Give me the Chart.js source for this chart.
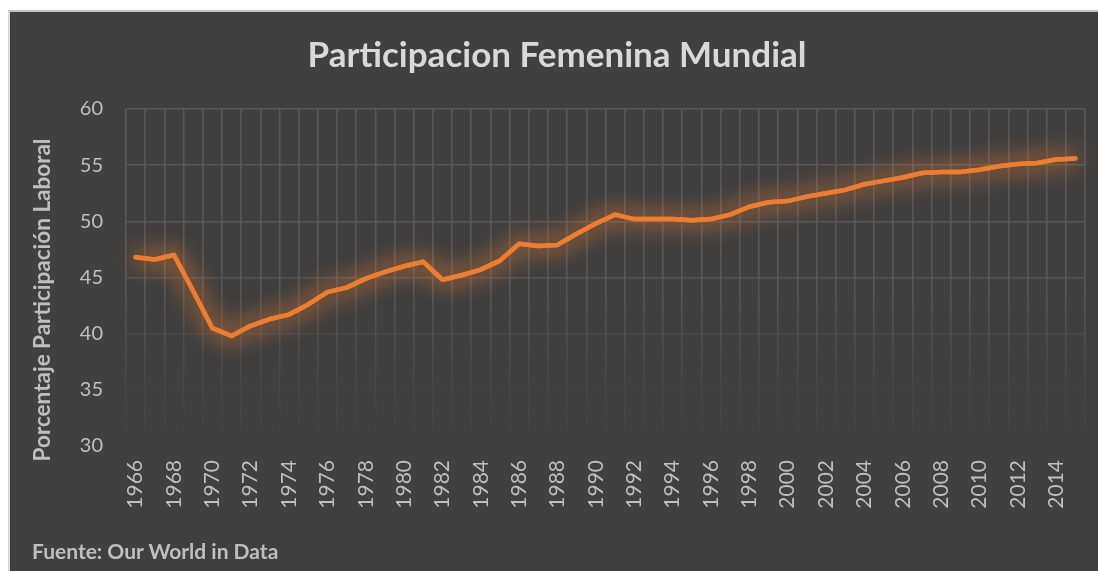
<!DOCTYPE html>
<html>
<head>
<meta charset="utf-8">
<script src="https://cdn.jsdelivr.net/npm/chart.js@4/dist/chart.umd.min.js"></script>
<style>
  html, body { margin: 0; padding: 0; background: #ffffff; width: 1098px; height: 571px; overflow: hidden; }
  #panel { position: absolute; left: 8px; top: 10px; width: 1088px; height: 559px;
           background: #404040; border-left: 2px solid #d9d9d9; border-top: 2px solid #c4c4c4; }
  #c { position: absolute; left: 0; top: 0; }
  #footer { position: absolute; left: 22px; top: 527px; font-family: Lato, "Open Sans", sans-serif;
            font-weight: bold; font-size: 21px; color: #bfbfbf; line-height: 24px; }
</style>
</head>
<body>
<div id="panel">
  <canvas id="c" width="1088" height="559"></canvas>
  <div id="footer">Fuente: Our World in Data</div>
</div>
<script>
const years = [
  "1966","1967","1968","1969","1970","1971","1972","1973","1974","1975",
  "1976","1977","1978","1979","1980","1981","1982","1983","1984","1985",
  "1986","1987","1988","1989","1990","1991","1992","1993","1994","1995",
  "1996","1997","1998","1999","2000","2001","2002","2003","2004","2005",
  "2006","2007","2008","2009","2010","2011","2012","2013","2014","2015"
];
const participation = [
  46.8, 46.6, 47.0, 43.8, 40.5, 39.8, 40.7, 41.3, 41.7, 42.6,
  43.7, 44.1, 44.9, 45.5, 46.0, 46.4, 44.8, 45.2, 45.7, 46.5,
  48.0, 47.8, 47.9, 48.9, 49.8, 50.6, 50.2, 50.2, 50.2, 50.1,
  50.2, 50.6, 51.3, 51.7, 51.8, 52.2, 52.5, 52.8, 53.3, 53.6,
  53.9, 54.3, 54.4, 54.4, 54.6, 54.9, 55.1, 55.2, 55.5, 55.6
];
const yTicks = [30, 35, 40, 45, 50, 55, 60];
const titleText = "Participacion Femenina Mundial";
const yTitleText = "Porcentaje Participación Laboral";

const FONT = "Lato, 'Open Sans', sans-serif";
const GRID = "89,89,89";

function xGridColor(ctx) {
  const chart = ctx.chart;
  const a = chart.chartArea;
  if (!a) return "rgba(" + GRID + ",1)";
  const g = chart.ctx.createLinearGradient(0, a.top, 0, a.bottom);
  g.addColorStop(0, "rgba(" + GRID + ",1)");
  g.addColorStop(0.5, "rgba(" + GRID + ",1)");
  g.addColorStop(0.75, "rgba(" + GRID + ",0.45)");
  g.addColorStop(1, "rgba(" + GRID + ",0)");
  return g;
}
function yGridColor(ctx) {
  const v = ctx.tick ? ctx.tick.value : 60;
  const alpha = { 60: 1, 55: 1, 50: 1, 45: 0.85, 40: 0.45, 35: 0.18, 30: 0 };
  const a = alpha[v] !== undefined ? alpha[v] : 1;
  return "rgba(" + GRID + "," + a + ")";
}

const glow = {
  id: "glow",
  beforeDatasetsDraw(chart) {
    const c = chart.ctx;
    c.save();
    c.shadowColor = "rgba(237,125,49,0.9)";
    c.shadowBlur = 24;
    const meta = chart.getDatasetMeta(0);
    if (meta && meta.dataset) meta.dataset.draw(c, chart.chartArea);
  },
  afterDatasetsDraw(chart) {
    chart.ctx.restore();
  }
};

const yTitle = {
  id: "yTitle",
  afterDraw(chart) {
    const c = chart.ctx;
    c.save();
    c.translate(33, 288);
    c.rotate(-Math.PI / 2);
    c.font = "bold 22.5px " + FONT;
    c.fillStyle = "#bfbfbf";
    c.textAlign = "center";
    c.textBaseline = "middle";
    c.fillText(yTitleText, 0, 0);
    c.restore();
  }
};

new Chart(document.getElementById("c"), {
  type: "line",
  data: {
    labels: years,
    datasets: [{
      data: participation,
      borderColor: "#ED7D31",
      borderWidth: 4.5,
      borderJoinStyle: "round",
      borderCapStyle: "round",
      pointRadius: 0,
      tension: 0,
      fill: false
    }]
  },
  options: {
    responsive: false,
    animation: false,
    layout: { padding: { left: 19, right: 13, top: 0, bottom: 0 } },
    plugins: {
      legend: { display: false },
      tooltip: { enabled: false },
      title: {
        display: true,
        text: titleText,
        color: "#d9d9d9",
        font: { family: FONT, size: 35, weight: "bold", lineHeight: 1.2 },
        padding: { top: 23, bottom: 32 }
      }
    },
    scales: {
      x: {
        type: "category",
        offset: true,
        grid: { offset: true, color: xGridColor, lineWidth: 1.5, drawTicks: false },
        border: { display: false },
        ticks: {
          autoSkip: false,
          minRotation: 90,
          maxRotation: 90,
          padding: 14,
          color: "#bfbfbf",
          font: { family: FONT, size: 21 },
          callback: function (v, i) { return i % 2 === 0 ? years[i] : ""; }
        },
        afterFit(scale) { scale.height = 125; scale.paddingLeft = 0; scale.paddingRight = 0; }
      },
      y: {
        min: yTicks[0],
        max: yTicks[yTicks.length - 1],
        grid: { color: yGridColor, lineWidth: 1.5, drawTicks: false },
        border: { display: false },
        afterBuildTicks(scale) { scale.ticks = yTicks.map(v => ({ value: v })); },
        ticks: {
          padding: 23,
          color: "#bfbfbf",
          font: { family: FONT, size: 20 }
        },
        afterFit(scale) { scale.width = 97; }
      }
    }
  },
  plugins: [glow, yTitle]
});
</script>
</body>
</html>
